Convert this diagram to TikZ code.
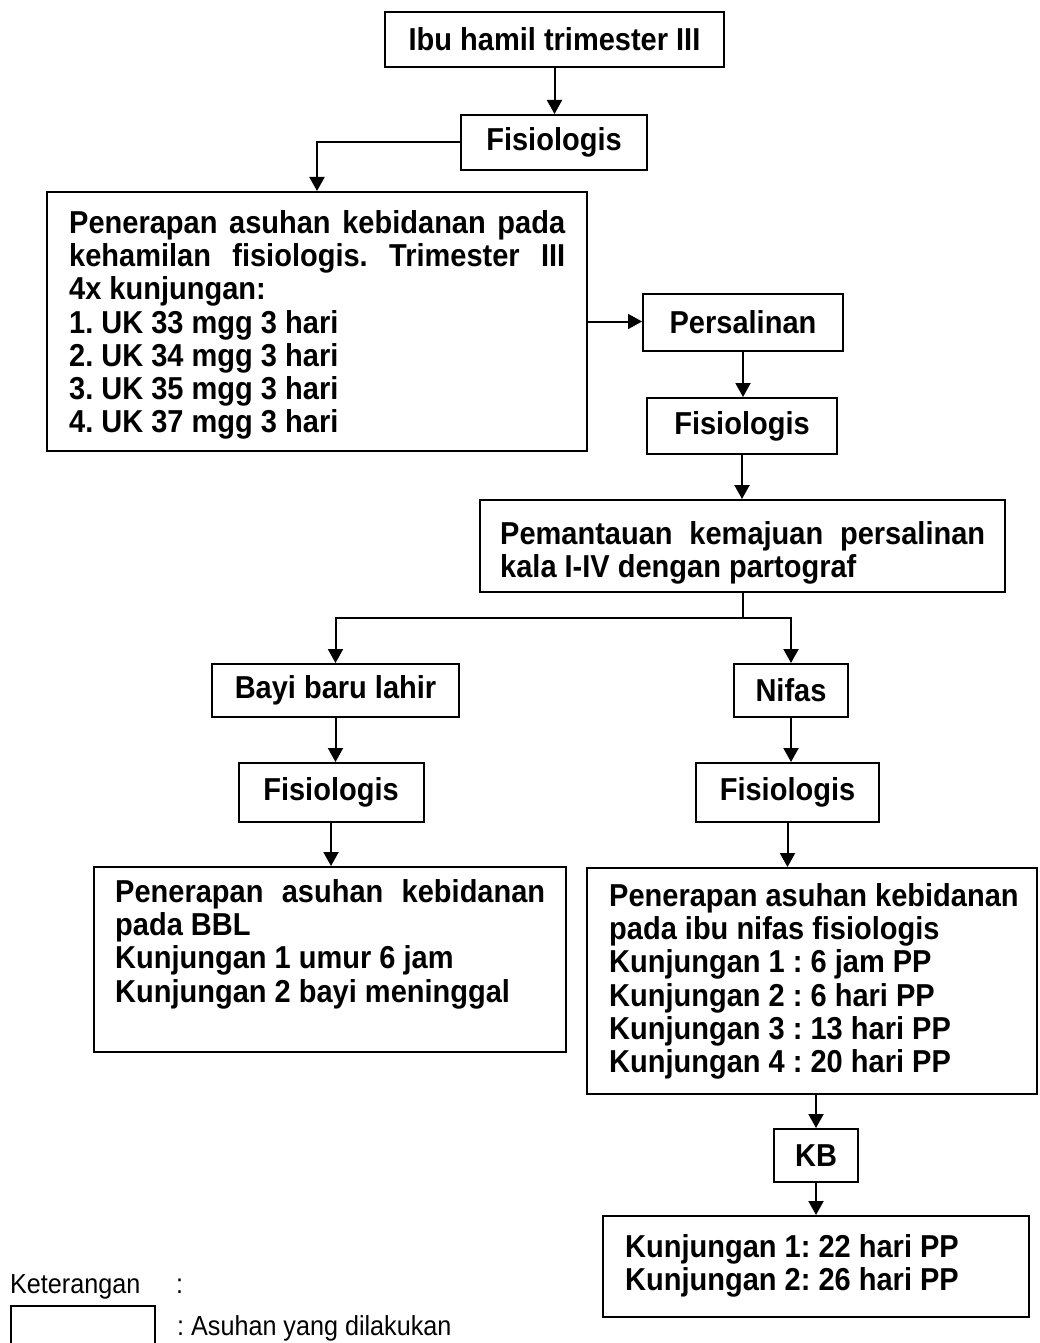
\documentclass[tikz,border=0pt]{standalone}
\usepackage{fontspec}
\setmainfont{Liberation Sans}
\newfontfamily\diagfont[FakeStretch=0.915]{Liberation Sans}
\usetikzlibrary{arrows.meta,calc}
\newcommand{\bfont}{\diagfont\bfseries\fontsize{31.7}{33.3}\selectfont\frenchspacing}
\newcommand{\jline}[2]{\makebox[#1][s]{#2}}
\begin{document}
\begin{tikzpicture}[x=1pt,y=-1pt,
  box/.style={draw, line width=2pt, rectangle, inner sep=0pt, font=\bfont},
  txt/.style={inner sep=0pt, anchor=north west, align=left, font=\bfont},
  arr/.style={line width=2pt, -{Triangle[length=14pt,width=15pt]}},
  ln/.style={line width=2pt},
  leg/.style={inner sep=0pt, anchor=base west, font=\diagfont\fontsize{27.5}{30}\selectfont\frenchspacing}]
\useasboundingbox (0,0) rectangle (1039,1343);

% boxes
\node[box, minimum width=339pt, minimum height=55pt] (n1) at (554.5,39.5) {Ibu hamil trimester III};
\node[box, minimum width=186pt, minimum height=55pt] (n2) at (554,142.5) {Fisiologis};
\node[box, minimum width=540pt, minimum height=259pt] (n3) at (317,321.5) {};
\node[box, minimum width=200pt, minimum height=57pt] (n4) at (743,322.5) {Persalinan};
\node[box, minimum width=190pt, minimum height=56pt] (n5) at (742,426) {Fisiologis};
\node[box, minimum width=525pt, minimum height=92pt] (n6) at (742.5,546) {};
\node[box, minimum width=247pt, minimum height=53pt] (n7) at (335.5,690.5) {Bayi baru lahir};
\node[box, minimum width=114pt, minimum height=53pt] (n8) at (791,690.5) {Nifas};
\node[box, minimum width=185pt, minimum height=59pt] (n9) at (331,792.5) {Fisiologis};
\node[box, minimum width=183pt, minimum height=59pt] (n10) at (787.5,792.5) {Fisiologis};
\node[box, minimum width=472pt, minimum height=185pt] (n11) at (330,959.5) {};
\node[box, minimum width=450pt, minimum height=226pt] (n12) at (812,981) {};
\node[box, minimum width=84pt, minimum height=53pt] (n13) at (816,1155.5) {KB};
\node[box, minimum width=426pt, minimum height=101pt] (n14) at (816,1266.5) {};

% texts in the large boxes
\node[txt] (t3) at (69,210) {\jline{496pt}{Penerapan asuhan kebidanan pada}\\
\jline{496pt}{kehamilan fisiologis. Trimester III}\\
4x kunjungan:\\
1. UK 33 mgg 3 hari\\
2. UK 34 mgg 3 hari\\
3. UK 35 mgg 3 hari\\
4. UK 37 mgg 3 hari};
\node[txt] (t6) at (500,521) {\jline{485pt}{Pemantauan kemajuan persalinan}\\
kala I-IV dengan partograf};
\node[txt] (t11) at (115,879) {\jline{430pt}{Penerapan asuhan kebidanan}\\
pada BBL\\
Kunjungan 1 umur 6 jam\\
Kunjungan 2 bayi meninggal};
\node[txt] (t12) at (609,883) {Penerapan asuhan kebidanan\\
pada ibu nifas fisiologis\\
Kunjungan 1 : 6 jam PP\\
Kunjungan 2 : 6 hari PP\\
Kunjungan 3 : 13 hari PP\\
Kunjungan 4 : 20 hari PP};
\node[txt] (t14) at (625,1234) {Kunjungan 1: 22 hari PP\\
Kunjungan 2: 26 hari PP};

% connectors
\draw[arr] (n1.south) -- (n1.south |- n2.north);
\draw[arr] (n2.west) -| (n3.north);
\draw[arr] (n3.east) -- (n3.east -| n4.west);
\draw[arr] (n4.south) -- (n4.south |- n5.north);
\draw[arr] (n5.south) -- (n5.south |- n6.north);
\coordinate (br) at (742.5,618);
\draw[ln] (n6.south) -- (br);
\draw[arr] (br) -| (n7.north);
\draw[arr] (br) -| (n8.north);
\draw[arr] (n7.south) -- (n7.south |- n9.north);
\draw[arr] (n8.south) -- (n8.south |- n10.north);
\draw[arr] (n9.south) -- (n9.south |- n11.north);
\draw[arr] (n10.south) -- (n10.south |- n12.north);
\draw[arr] (n13.north |- n12.south) -- (n13.north);
\draw[arr] (n13.south) -- (n13.south |- n14.north);

% legend
\node[leg] (kt) at (10,1293) {Keterangan};
\node[leg] (kc) at (176,1293) {:};
\draw[ln] (11,1343) -- (11,1306) -- (155,1306) -- (155,1343);
\node[leg] (la) at (177,1335) {: Asuhan yang dilakukan};
\end{tikzpicture}
\end{document}
